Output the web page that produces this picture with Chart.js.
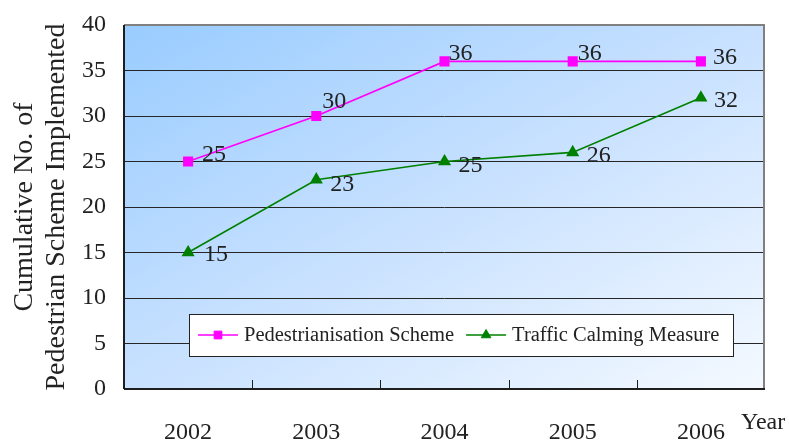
<!DOCTYPE html>
<html>
<head>
<meta charset="utf-8">
<script src="https://cdn.jsdelivr.net/npm/chart.js@4.4.0/dist/chart.umd.min.js"></script>
<style>
  html, body { margin: 0; padding: 0; background: #ffffff; }
  canvas { display: block; }
</style>
</head>
<body>
<canvas id="chart" width="789" height="443"></canvas>
<script>
// Data
const years = ['2002', '2003', '2004', '2005', '2006'];
const pedestrianisation = [25, 30, 36, 36, 36];
const trafficCalming = [15, 23, 25, 26, 32];
const yMin = 0;
const yMax = 40;
const yStep = 5;
const seriesNames = ['Pedestrianisation Scheme', 'Traffic Calming Measure'];
const yTitle = ['Cumulative No. of', 'Pedestrian Scheme Implemented'];
const xTitle = 'Year';

const SERIF = "'Liberation Serif', 'Times New Roman', serif";
const TEXT = '#222222';

// Diagonal gradient fill behind the plot
const plotBackground = {
  id: 'plotBackground',
  beforeDraw(chart) {
    const { ctx, chartArea: a } = chart;
    const w = a.right - a.left, h = a.bottom - a.top;
    const k = (2 * w * h) / (w * w + h * h);
    const g = ctx.createLinearGradient(a.left, a.top, a.left + k * h, a.top + k * w);
    g.addColorStop(0, '#99ccff');
    g.addColorStop(0.5, '#c8e1ff');
    g.addColorStop(1, '#f4f9ff');
    ctx.save();
    ctx.fillStyle = g;
    ctx.fillRect(a.left, a.top, w, h);
    ctx.restore();
  }
};

// Frame around the plot and inward tick marks between categories
const plotFrame = {
  id: 'plotFrame',
  beforeDatasetsDraw(chart) {
    const { ctx, chartArea: a, scales } = chart;
    ctx.save();
    ctx.lineWidth = 2;
    ctx.strokeStyle = '#808080';
    ctx.beginPath();
    ctx.moveTo(a.left, a.top); ctx.lineTo(a.right, a.top);
    ctx.moveTo(a.right - 1, a.top); ctx.lineTo(a.right - 1, a.bottom);
    ctx.stroke();
    ctx.strokeStyle = '#1e1e1e';
    ctx.beginPath();
    ctx.moveTo(a.left, a.top); ctx.lineTo(a.left, a.bottom);
    ctx.moveTo(a.left, a.bottom); ctx.lineTo(a.right, a.bottom);
    ctx.stroke();
    const x = scales.x;
    ctx.lineWidth = 1;
    ctx.beginPath();
    for (let i = 0; i < years.length - 1; i++) {
      const px = Math.round((x.getPixelForValue(i) + x.getPixelForValue(i + 1)) / 2) + 0.5;
      ctx.moveTo(px, a.bottom);
      ctx.lineTo(px, a.bottom - 9);
    }
    ctx.stroke();
    // axis name at the right end of the category axis
    ctx.fillStyle = TEXT;
    ctx.font = '24px ' + SERIF;
    ctx.textAlign = 'left';
    ctx.textBaseline = 'middle';
    ctx.fillText(xTitle, a.right - 24, a.bottom + 34);
    ctx.restore();
  }
};

// Value labels beside each point
const valueLabels = {
  id: 'valueLabels',
  afterDatasetsDraw(chart, args, opts) {
    const { ctx } = chart;
    ctx.save();
    ctx.font = opts.font;
    ctx.fillStyle = opts.color;
    ctx.textAlign = 'left';
    ctx.textBaseline = 'middle';
    chart.data.datasets.forEach((ds, di) => {
      const meta = chart.getDatasetMeta(di);
      const offs = opts.offsets[di];
      meta.data.forEach((pt, i) => {
        const [dx, dy] = offs[i];
        ctx.fillText(String(ds.data[i]), pt.x + dx, pt.y + dy);
      });
    });
    ctx.restore();
  }
};

// Boxed legend inside the plot
const boxLegend = {
  id: 'boxLegend',
  afterDatasetsDraw(chart, args, opts) {
    const { ctx, chartArea: a } = chart;
    ctx.save();
    ctx.font = opts.font;
    const lineLen = 40, gapLT = 6, gapItems = 12, padL = 9, padR = 14;
    const widths = chart.data.datasets.map(ds => ctx.measureText(ds.label).width);
    let total = padL + padR;
    widths.forEach((w, i) => { total += lineLen + gapLT + w + (i ? gapItems : 0); });
    const left = a.left + opts.offsetX;
    const cy = a.bottom - opts.offsetBottom;
    const h = opts.height;
    ctx.fillStyle = '#ffffff';
    ctx.fillRect(left, cy - h / 2, total, h);
    ctx.lineWidth = 1;
    ctx.strokeStyle = '#222222';
    ctx.strokeRect(Math.round(left) + 0.5, Math.round(cy - h / 2) + 0.5, Math.round(total), Math.round(h));
    let x = left + padL;
    chart.data.datasets.forEach((ds, i) => {
      if (i) x += gapItems;
      ctx.strokeStyle = ds.borderColor;
      ctx.lineWidth = ds.borderWidth;
      ctx.beginPath();
      ctx.moveTo(x, cy); ctx.lineTo(x + lineLen, cy);
      ctx.stroke();
      ctx.fillStyle = ds.pointBackgroundColor;
      ctx.strokeStyle = ds.pointBorderColor;
      ctx.lineWidth = 1;
      Chart.helpers.drawPoint(ctx, {
        pointStyle: ds.pointStyle, radius: ds.pointRadius - 0.5, rotation: 0,
        borderWidth: 1
      }, x + lineLen / 2, cy);
      x += lineLen + gapLT;
      ctx.fillStyle = TEXT;
      ctx.textAlign = 'left';
      ctx.textBaseline = 'middle';
      ctx.fillText(ds.label, x, cy + 1);
      x += widths[i];
    });
    ctx.restore();
  }
};

new Chart(document.getElementById('chart'), {
  type: 'line',
  data: {
    labels: years,
    datasets: [
      {
        label: seriesNames[0],
        data: pedestrianisation,
        borderColor: '#ff00ff',
        backgroundColor: '#ff00ff',
        pointBackgroundColor: '#ff00ff',
        pointBorderColor: '#ff00ff',
        borderWidth: 1.6,
        pointStyle: 'rect',
        pointRadius: 6,
        pointHoverRadius: 6,
        tension: 0
      },
      {
        label: seriesNames[1],
        data: trafficCalming,
        borderColor: '#008000',
        backgroundColor: '#008000',
        pointBackgroundColor: '#008000',
        pointBorderColor: '#008000',
        borderWidth: 1.6,
        pointStyle: 'triangle',
        pointRadius: 6,
        pointHoverRadius: 6,
        tension: 0
      }
    ]
  },
  options: {
    responsive: false,
    animation: false,
    devicePixelRatio: 1,
    layout: { padding: { top: 25, right: 24, left: 0, bottom: 0 } },
    plugins: {
      legend: { display: false },
      tooltip: { enabled: false },
      valueLabels: {
        font: '24px ' + SERIF,
        color: TEXT,
        offsets: [
          [[14, -7], [6, -14], [4, -8], [5, -8], [12, -4]],
          [[16, 2], [14, 5], [14, 4], [14, 3], [13, 3]]
        ]
      },
      boxLegend: {
        font: '20.5px ' + SERIF,
        offsetX: 65,
        offsetBottom: 54,
        height: 42
      }
    },
    scales: {
      x: {
        type: 'category',
        offset: true,
        grid: { display: false },
        border: { display: false },
        ticks: {
          color: TEXT,
          font: { family: SERIF, size: 24 },
          padding: 21,
          maxRotation: 0
        },
        afterFit(scale) { scale.height = 54; }
      },
      y: {
        min: yMin,
        max: yMax,
        grid: {
          color: ctx => (ctx.tick && ctx.tick.value === yMax) ? 'rgba(0,0,0,0)' : '#262626',
          lineWidth: 1,
          drawTicks: false
        },
        border: { display: false },
        ticks: {
          stepSize: yStep,
          color: TEXT,
          font: { family: SERIF, size: 24, lineHeight: 0.5 },
          padding: 18
        },
        title: {
          display: true,
          text: yTitle,
          color: TEXT,
          font: { family: SERIF, size: 28, lineHeight: 1.143 },
          padding: { top: 9, bottom: 0 }
        },
        afterFit(scale) { scale.width = 124; }
      }
    }
  },
  plugins: [plotBackground, plotFrame, valueLabels, boxLegend]
});
</script>
</body>
</html>
